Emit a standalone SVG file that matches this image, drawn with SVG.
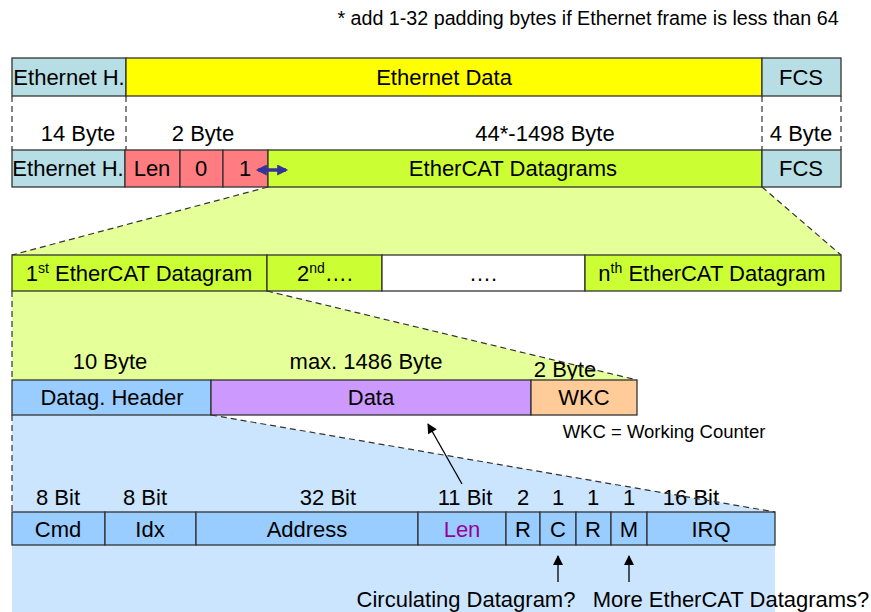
<svg xmlns="http://www.w3.org/2000/svg" width="871" height="612" viewBox="0 0 871 612">
<style>
text{font-family:"Liberation Sans",Arial,sans-serif;font-size:22px;fill:#000;text-anchor:middle}
.sm{font-size:18.5px}
.nt{font-size:19.7px}
.b{stroke:#333;stroke-width:1.3}
.eh{fill:#B7DEE4}
.yl{fill:#FFFF00}
.rd{fill:#FF7C80}
.gr{fill:#CCFF33}
.wh{fill:#FFFFFF}
.hd{fill:#99CCFF}
.dt{fill:#CC99FF}
.wk{fill:#FFCC99}
.dash{stroke:#333;stroke-width:1.2;stroke-dasharray:6,4;fill:none}
.sup{font-size:14px}
</style>
<defs>
<marker id="ab" viewBox="0 0 10 10" refX="8" refY="5" markerWidth="13" markerHeight="11" orient="auto-start-reverse" markerUnits="userSpaceOnUse"><path d="M0,0 L10,5 L0,10 z" fill="#333399"/></marker>
<marker id="ak" viewBox="0 0 10 10" refX="9" refY="5" markerWidth="12" markerHeight="10" orient="auto" markerUnits="userSpaceOnUse"><path d="M0,0 L10,5 L0,10 z" fill="#000"/></marker>
</defs>

<!-- background shapes -->
<polygon points="268,187 762,187 841,255 12,255" fill="#E5FF99"/>
<polygon points="12,291 267,291 637,380 12,380" fill="#E5FF99"/>
<polygon points="12,415 211,415 775,512 775,612 12,612" fill="#CCE5FF"/>

<text class="nt" x="588" y="25">* add 1-32 padding bytes if Ethernet frame is less than 64</text>

<g id="row1">
<rect class="b eh" x="12" y="58" width="114" height="38"/>
<rect class="b yl" x="126" y="58" width="636" height="38"/>
<rect class="b eh" x="762" y="58" width="79" height="38"/>
<text x="69" y="85">Ethernet H.</text>
<text x="444" y="85">Ethernet Data</text>
<text x="801" y="85">FCS</text>
</g>

<g id="sizes1">
<text x="78" y="141">14 Byte</text>
<text x="203" y="141">2 Byte</text>
<text x="545" y="141">44*-1498 Byte</text>
<text x="801" y="141">4 Byte</text>
</g>

<g id="row2">
<rect class="b eh" x="12" y="150" width="113" height="37"/>
<rect class="b rd" x="125" y="150" width="55" height="37"/>
<rect class="b rd" x="180" y="150" width="43" height="37"/>
<rect class="b rd" x="223" y="150" width="45" height="37"/>
<rect class="b gr" x="268" y="150" width="494" height="37"/>
<rect class="b eh" x="762" y="150" width="79" height="37"/>
<text x="68" y="176">Ethernet H.</text>
<text x="152" y="176">Len</text>
<text x="201" y="176">0</text>
<text x="245" y="176">1</text>
<text x="513" y="176">EtherCAT Datagrams</text>
<text x="801" y="176">FCS</text>
</g>

<g id="row3">
<rect class="b gr" x="12" y="255" width="255" height="36"/>
<rect class="b gr" x="267" y="255" width="115" height="36"/>
<rect class="b wh" x="382" y="255" width="203" height="36"/>
<rect class="b gr" x="585" y="255" width="256" height="36"/>
<text x="139" y="281">1<tspan class="sup" dy="-8">st</tspan><tspan dy="8"> EtherCAT Datagram</tspan></text>
<text x="325" y="281">2<tspan class="sup" dy="-8">nd</tspan><tspan dy="8">….</tspan></text>
<text x="483" y="281">….</text>
<text x="712" y="281">n<tspan class="sup" dy="-8">th</tspan><tspan dy="8"> EtherCAT Datagram</tspan></text>
</g>

<g id="sizes2">
<text x="110" y="369">10 Byte</text>
<text x="366" y="369">max. 1486 Byte</text>
<text x="565" y="377">2 Byte</text>
</g>

<g id="row4">
<rect class="b hd" x="12" y="380" width="199" height="35"/>
<rect class="b dt" x="211" y="380" width="320" height="35"/>
<rect class="b wk" x="531" y="380" width="106" height="35"/>
<text x="112" y="405">Datag. Header</text>
<text x="371" y="405">Data</text>
<text x="584" y="405">WKC</text>
</g>
<text class="sm" x="664" y="438">WKC = Working Counter</text>

<g id="bits">
<text x="58" y="505">8 Bit</text>
<text x="145" y="505">8 Bit</text>
<text x="328" y="505">32 Bit</text>
<text x="465" y="505">11 Bit</text>
<text x="523" y="505">2</text>
<text x="558" y="505">1</text>
<text x="593" y="505">1</text>
<text x="629" y="505">1</text>
<text x="691" y="505">16 Bit</text>
</g>

<g id="row5">
<rect class="b hd" x="12" y="512" width="93" height="33"/>
<rect class="b hd" x="105" y="512" width="91" height="33"/>
<rect class="b hd" x="196" y="512" width="222" height="33"/>
<rect class="b hd" x="418" y="512" width="88" height="33"/>
<rect class="b hd" x="506" y="512" width="34" height="33"/>
<rect class="b hd" x="540" y="512" width="36" height="33"/>
<rect class="b hd" x="576" y="512" width="35" height="33"/>
<rect class="b hd" x="611" y="512" width="36" height="33"/>
<rect class="b hd" x="647" y="512" width="128" height="33"/>
<text x="58" y="537">Cmd</text>
<text x="150" y="537">Idx</text>
<text x="307" y="537">Address</text>
<text x="462" y="537" style="fill:#990099">Len</text>
<text x="523" y="537">R</text>
<text x="558" y="537">C</text>
<text x="593" y="537">R</text>
<text x="629" y="537">M</text>
<text x="711" y="537">IRQ</text>
</g>

<g id="notes">
<text x="466" y="607">Circulating Datagram?</text>
<text x="731" y="607">More EtherCAT Datagrams?</text>
</g>

<g id="connectors">
<line class="dash" x1="12" y1="96" x2="12" y2="150"/>
<line class="dash" x1="126" y1="96" x2="126" y2="150"/>
<line class="dash" x1="762" y1="96" x2="762" y2="150"/>
<line class="dash" x1="841" y1="96" x2="841" y2="150"/>
<line class="dash" x1="268" y1="187" x2="12" y2="255"/>
<line class="dash" x1="762" y1="187" x2="841" y2="255"/>
<line class="dash" x1="12" y1="291" x2="12" y2="380"/>
<line class="dash" x1="267" y1="291" x2="637" y2="380"/>
<line class="dash" x1="12" y1="415" x2="12" y2="512"/>
<line class="dash" x1="211" y1="415" x2="775" y2="512"/>
<line x1="258" y1="170" x2="286" y2="170" stroke="#333399" stroke-width="3.5" marker-start="url(#ab)" marker-end="url(#ab)"/>
<line x1="462" y1="484" x2="428" y2="424" stroke="#000" stroke-width="1.3" marker-end="url(#ak)"/>
<line x1="558" y1="582" x2="558" y2="556" stroke="#000" stroke-width="1.3" marker-end="url(#ak)"/>
<line x1="629" y1="582" x2="629" y2="556" stroke="#000" stroke-width="1.3" marker-end="url(#ak)"/>
</g>
</svg>
